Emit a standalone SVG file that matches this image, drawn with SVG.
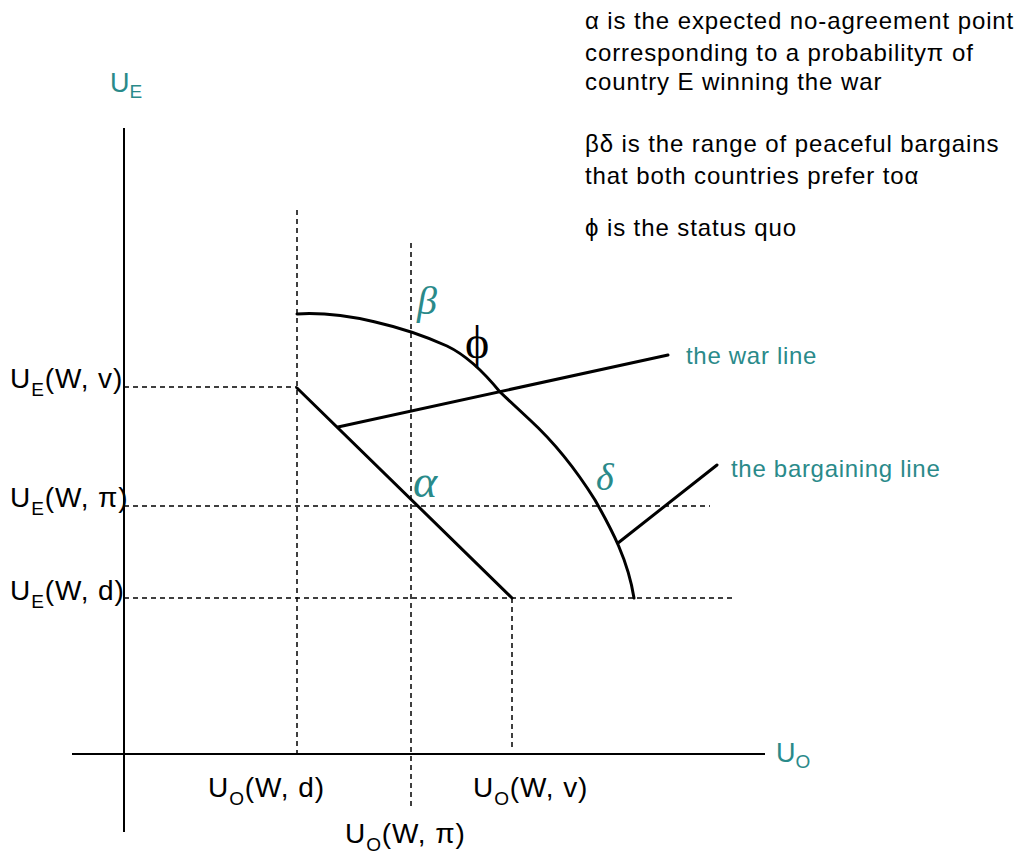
<svg xmlns="http://www.w3.org/2000/svg" width="1019" height="854" viewBox="0 0 1019 854">
<style>
.t{font-family:"Liberation Sans",Arial,sans-serif;font-size:28px;letter-spacing:0.9px;fill:#000}
.lg{font-family:"Liberation Sans",Arial,sans-serif;font-size:24px;letter-spacing:0.9px;fill:#000}
.tl{font-family:"Liberation Sans",Arial,sans-serif;font-size:24px;letter-spacing:0.7px;fill:#2a8a8a}
.ax-lab{font-family:"Liberation Sans",Arial,sans-serif;font-size:27px;fill:#2a8a8a}
.g{font-family:"Liberation Serif","DejaVu Serif",serif;font-style:italic;fill:#2a8a8a}
.sub{font-size:19px}
.ax{stroke:#000;stroke-width:2;fill:none}
.dash{stroke:#000;stroke-width:1.5;stroke-dasharray:5,4;fill:none}
.ln{stroke:#000;stroke-width:3;fill:none;stroke-linecap:round;stroke-linejoin:round}
</style>
<rect width="1019" height="854" fill="#fff"/>
<g id="axes">
<line class="ax" x1="124" y1="128" x2="124" y2="832"/>
<line class="ax" x1="72" y1="754" x2="765" y2="754"/>
<text class="ax-lab" x="110" y="92">U<tspan class="sub" dy="6">E</tspan></text>
<text class="ax-lab" x="776" y="762">U<tspan class="sub" dy="6">O</tspan></text>
</g>
<g id="guides">
<line class="dash" x1="297" y1="210" x2="297" y2="754"/>
<line class="dash" x1="411" y1="243" x2="411" y2="810"/>
<line class="dash" x1="512" y1="598" x2="512" y2="750"/>
<line class="dash" x1="124" y1="387" x2="297" y2="387"/>
<line class="dash" x1="124" y1="506" x2="710" y2="506"/>
<line class="dash" x1="124" y1="598" x2="735" y2="598"/>
</g>
<g id="connectors">
<path id="frontier" class="ln" d="M297,314 C345,311 405,327 447,346 C470,357 487,376 500,392 L530,420 C555,443 575,468 595,500 C612,530 628,560 634,598"/>
<line id="alpha-line" class="ln" x1="297" y1="388" x2="512" y2="598"/>
<line id="war-line" class="ln" x1="338" y1="427" x2="668" y2="355"/>
<line id="bargaining-line" class="ln" x1="618" y1="543" x2="717" y2="465"/>
</g>
<g id="point-labels">
<text class="g" x="417" y="314" font-size="40">β</text>
<text class="g" x="413" y="497" font-size="46">α</text>
<text class="g" x="596" y="490" font-size="38">δ</text>
<text x="465" y="358" font-family="Liberation Serif,serif" font-size="46" fill="#000">ϕ</text>
</g>
<g id="line-labels">
<text class="tl" x="686" y="364">the war line</text>
<text class="tl" x="731" y="477">the bargaining line</text>
</g>
<g id="y-ticks">
<text class="t" x="10" y="388">U<tspan class="sub" dy="8">E</tspan><tspan dy="-8">(W, v)</tspan></text>
<text class="t" x="10" y="507">U<tspan class="sub" dy="8">E</tspan><tspan dy="-8">(W, π)</tspan></text>
<text class="t" x="10" y="600">U<tspan class="sub" dy="8">E</tspan><tspan dy="-8">(W, d)</tspan></text>
</g>
<g id="x-ticks">
<text class="t" x="208" y="797">U<tspan class="sub" dy="8">O</tspan><tspan dy="-8">(W, d)</tspan></text>
<text class="t" x="473" y="797">U<tspan class="sub" dy="8">O</tspan><tspan dy="-8">(W, v)</tspan></text>
<text class="t" x="345" y="843">U<tspan class="sub" dy="8">O</tspan><tspan dy="-8">(W, π)</tspan></text>
</g>
<g id="legend">
<text class="lg" x="585" y="29">α is the expected no-agreement point</text>
<text class="lg" x="585" y="61">corresponding to a probabilityπ of</text>
<text class="lg" x="585" y="90">country E winning the war</text>
<text class="lg" x="585" y="152">βδ is the range of peaceful bargains</text>
<text class="lg" x="585" y="184">that both countries prefer toα</text>
<text class="lg" x="585" y="236">ϕ is the status quo</text>
</g>
</svg>
